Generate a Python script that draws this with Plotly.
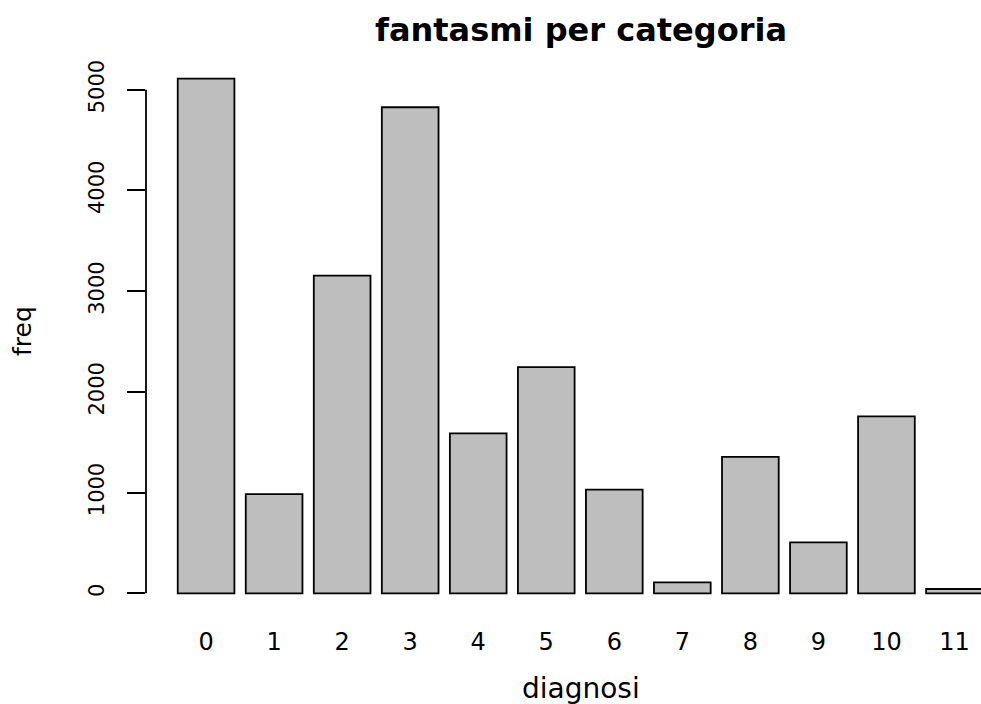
import numpy as np
import plotly.graph_objects as go

# Frequency of each diagnosis category
categories = ["0", "1", "2", "3", "4", "5", "6", "7", "8", "9", "10", "11"]
freq = [5111, 986, 3155, 4826, 1589, 2247, 1030, 109, 1354, 506, 1758, 43]
y_ticks = [0, 1000, 2000, 3000, 4000, 5000]

W, H = 981, 704
FONT = "DejaVu Sans, Liberation Sans, Arial, sans-serif"

# plot-area edges in pixels
LEFT, TOP, BOTTOM = 146, 57, 614

fig = go.Figure(
    go.Bar(
        x=categories,
        y=freq,
        marker=dict(color="#BEBEBE", line=dict(color="black", width=1.8)),
        hoverinfo="x+y",
    )
)

fig.update_layout(
    width=W,
    height=H,
    margin=dict(l=LEFT, r=0, t=TOP, b=H - BOTTOM),
    paper_bgcolor="white",
    plot_bgcolor="white",
    bargap=1 / 6,
    showlegend=False,
    font=dict(family=FONT, color="black", size=21),
    title=dict(
        text="<b>fantasmi per categoria</b>",
        font=dict(family=FONT, size=32, color="black"),
        x=581 / W,
        xanchor="center",
        xref="container",
        y=1 - 30 / H,
        yanchor="middle",
        yref="container",
    ),
)

fig.update_xaxes(
    type="category",
    range=[-0.883, 11.39],
    showgrid=False,
    zeroline=False,
    showline=False,
    ticks="outside",
    ticklen=6,
    tickcolor="rgba(0,0,0,0)",
    tickfont=dict(family=FONT, size=24),
)

fig.update_yaxes(
    range=[-205, 5325],
    tickvals=y_ticks,
    ticktext=[str(v) for v in y_ticks],
    tickangle=-90,
    showgrid=False,
    zeroline=False,
    showline=False,
    ticks="outside",
    ticklen=18,
    tickwidth=1.8,
    tickcolor="black",
    ticklabelstandoff=15,
    tickfont=dict(family=FONT, size=21),
)

# Axis line spanning only the tick range, as in base graphics
fig.add_shape(
    type="line",
    xref="paper",
    yref="y",
    x0=0,
    x1=0,
    y0=y_ticks[0],
    y1=y_ticks[-1],
    line=dict(color="black", width=1.8),
)

# Axis titles
fig.add_annotation(
    text="diagnosi",
    xref="paper",
    yref="paper",
    x=(581 - LEFT) / (W - LEFT),
    y=-(688 - BOTTOM) / (BOTTOM - TOP),
    xanchor="center",
    yanchor="middle",
    showarrow=False,
    font=dict(family=FONT, size=28, color="black"),
)
fig.add_annotation(
    text="freq",
    xref="paper",
    yref="paper",
    x=-(LEFT - 22) / (W - LEFT),
    y=(BOTTOM - 331) / (BOTTOM - TOP),
    xanchor="center",
    yanchor="middle",
    textangle=-90,
    showarrow=False,
    font=dict(family=FONT, size=25, color="black"),
)

fig.write_html("out.html")
